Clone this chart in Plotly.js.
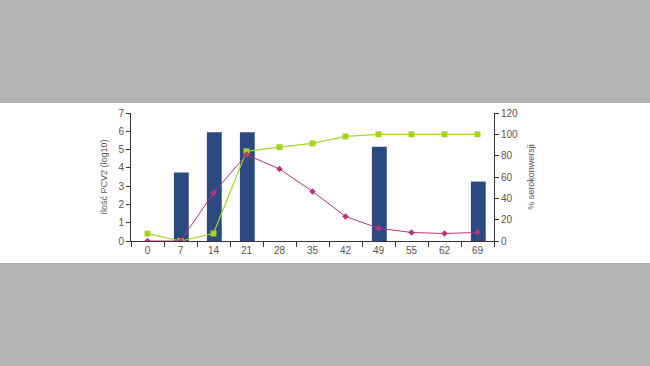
<!DOCTYPE html>
<html><head><meta charset="utf-8">
<script src="https://cdn.plot.ly/plotly-3.0.1.min.js"></script>
<style>
html,body{margin:0;padding:0;background:#b3b3b3;width:650px;height:366px;overflow:hidden;}
#chart{position:absolute;left:0;top:103px;width:650px;height:160px;background:#fff;}
</style></head><body>
<div id="chart"></div>
<script>
const categories = ['0','7','14','21','28','35','42','49','55','62','69'];
const barValues = [null, 3.75, 5.95, 5.95, null, null, null, 5.15, null, null, 3.25];
const greenValues = [7, 0, 7, 84, 88, 91.5, 98, 100, 100, 100, 100];
const pinkValues = [0, 0, 45, 81, 67.5, 46.5, 23, 12, 8, 7, 8];
const leftTicks = [0,1,2,3,4,5,6,7];
const rightTicks = [0,20,40,60,80,100,120];
const boundaryTicks = categories.map((c,i)=>i-0.5).concat([categories.length-0.5]);

const font = {family:'Liberation Sans, Arial, sans-serif', size:10, color:'#555'};
const titleFont = {family:'Liberation Sans, Arial, sans-serif', size:9, color:'#555'};
const traces = [
  {type:'bar', x:categories, y:barValues, marker:{color:'#2b4a80'}, width:0.45, offset:-0.2, yaxis:'y', showlegend:false, hoverinfo:'skip'},
  {type:'scatter', mode:'lines+markers', x:categories, y:greenValues, yaxis:'y2',
   line:{color:'#a6d31f', width:1.2}, marker:{symbol:'square', size:6, color:'#a6d31f'}, showlegend:false},
  {type:'scatter', mode:'lines+markers', x:categories, y:pinkValues, yaxis:'y2',
   line:{color:'#b8357a', width:1}, marker:{symbol:'diamond', size:5, color:'#b8357a'}, showlegend:false}
];
const tc = '#333';
const layout = {
  width:650, height:160,
  margin:{l:131, r:156, t:10, b:22},
  paper_bgcolor:'#ffffff', plot_bgcolor:'rgba(0,0,0,0)',
  font:font,
  xaxis:{type:'category', tickvals:categories, ticktext:categories, tickson:'boundaries',
    ticks:'outside', ticklen:5, tickcolor:tc, showline:true, linecolor:tc, linewidth:1,
    showgrid:false, zeroline:false, tickfont:font, range:[-0.5,10.5]},
  xaxis2:{overlaying:'x', side:'bottom', anchor:'y', range:[-0.5,10.5], tickvals:boundaryTicks,
    ticks:'inside', ticklen:4, tickcolor:tc, showticklabels:false, showline:false, showgrid:false, zeroline:false},
  yaxis:{range:[0,7], tickvals:leftTicks, ticks:'outside', ticklen:4, tickcolor:tc,
    showline:true, linecolor:tc, showgrid:false, zeroline:false, tickfont:font,
    title:{text:'Ilość PCV2 (log10)', font:titleFont, standoff:9}},
  yaxis3:{range:[0,7], tickvals:leftTicks, overlaying:'y', side:'left', anchor:'x', ticks:'inside', ticklen:4,
    tickcolor:tc, showticklabels:false, showline:false, showgrid:false, zeroline:false},
  yaxis2:{range:[0,120], tickvals:rightTicks, overlaying:'y', side:'right', ticks:'outside', ticklen:4,
    tickcolor:tc, showline:true, linecolor:tc, showgrid:false, zeroline:false, tickfont:font,
    title:{text:'% serokonwersji', font:titleFont, standoff:10}},
  yaxis4:{range:[0,120], tickvals:rightTicks, overlaying:'y', side:'right', anchor:'x', ticks:'inside', ticklen:4,
    tickcolor:tc, showticklabels:false, showline:false, showgrid:false, zeroline:false}
};
Plotly.newPlot('chart', traces, layout, {staticPlot:true, displayModeBar:false});
</script></body></html>
